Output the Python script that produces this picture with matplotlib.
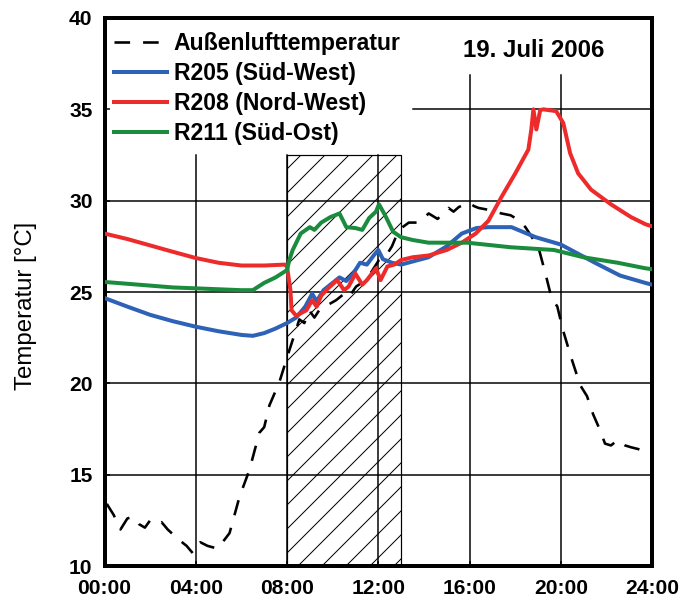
import matplotlib
matplotlib.use("Agg")
import matplotlib.pyplot as plt
from matplotlib.patches import Rectangle

plt.rcParams['font.family'] = ['Liberation Sans', 'DejaVu Sans']
plt.rcParams['hatch.linewidth'] = 1.0

# Außenlufttemperatur (hours, °C)
t_aussen = [0.1, 0.4, 0.7, 1.0, 1.25, 1.5, 1.77, 2.0, 2.3, 2.5, 2.77, 3.2, 3.6, 3.87, 4.2, 4.52,
            4.96, 5.48, 5.92, 6.35, 6.79, 7.0, 7.23, 7.66, 8.1, 8.54, 8.76, 8.97, 9.2, 9.41, 9.54,
            9.8, 10.15, 10.5, 10.7, 11.03, 11.4, 11.7, 12.03, 12.3, 12.6, 12.9, 13.34, 13.78,
            14.21, 14.6, 15.08, 15.3, 15.53, 15.96, 16.2, 16.4, 16.83, 17.4, 17.8, 18.14, 18.45,
            19.02, 19.33, 19.59, 19.85, 20.1, 20.46, 20.85, 21.15, 21.42, 21.7, 21.94, 22.2,
            22.5, 22.82, 23.08, 23.4, 23.82, 24.0]
v_aussen = [13.4, 12.8, 12.0, 12.6, 12.7, 12.3, 12.1, 12.5, 12.3, 12.4, 12.0, 11.5, 11.1, 10.7, 11.3, 11.1,
            10.95, 11.8, 13.8, 15.25, 17.3, 17.6, 18.8, 20.05, 21.8, 23.5, 23.3, 24.0, 23.6, 24.0, 24.2,
            24.3, 24.55, 24.9, 24.7, 25.3, 25.6, 26.1, 26.75, 26.9, 27.5, 28.4, 28.8, 28.8,
            29.3, 29.0, 29.6, 29.4, 29.65, 29.9, 29.7, 29.6, 29.5, 29.3, 29.2, 28.95, 28.55,
            27.45, 26.0, 24.7, 24.2, 22.9, 21.4, 19.9, 19.3, 18.3, 17.5, 16.7, 16.6,
            16.9, 16.6, 16.5, 16.4, 16.2, 16.3]

# R205 (Süd-West)
t_r205 = [0, 1, 2, 3, 4, 5, 6, 6.5, 7, 7.5, 8.0, 8.4, 8.8, 9.1, 9.3, 9.6, 9.9, 10.3, 10.6,
          10.9, 11.2, 11.5, 11.8, 12.0, 12.2, 12.6, 13.0, 14.2, 15.0, 15.66, 16.3, 16.83,
          17.84, 18.9, 20.0, 21.5, 22.6, 23.7, 24.0]
v_r205 = [24.67, 24.2, 23.75, 23.4, 23.1, 22.85, 22.65, 22.6, 22.75, 23.0, 23.3, 23.6, 24.2, 24.9, 24.5, 25.1, 25.4, 25.8, 25.6,
          26.0, 26.6, 26.5, 27.0, 27.3, 26.8, 26.6, 26.5, 26.9, 27.5, 28.2, 28.5, 28.55,
          28.55, 28.0, 27.6, 26.6, 25.9, 25.5, 25.4]

# R208 (Nord-West)
t_r208 = [0, 1, 2, 3, 4, 5, 6, 7, 7.9, 8.0, 8.15, 8.2, 8.4, 8.85, 9.1, 9.3, 9.5, 9.8, 10.2,
          10.5, 10.7, 11.0, 11.3, 11.5, 11.9, 12.1, 12.4, 12.7, 13.0, 13.5, 14.21, 15.0,
          15.66, 16.27, 16.83, 17.4, 18.01, 18.58, 18.71, 18.8, 18.93, 19.1, 19.24, 19.8,
          20.11, 20.41, 20.76, 21.33, 22.2, 23.08, 23.73, 24.0]
v_r208 = [28.2, 27.9, 27.55, 27.2, 26.86, 26.6, 26.45, 26.45, 26.5, 26.4, 25.1, 24.0, 23.7, 24.0, 24.55, 24.2, 24.8, 25.2, 25.65,
          25.1, 25.3, 26.0, 25.4, 25.65, 26.3, 25.65, 26.4, 26.5, 26.75, 26.9, 27.0, 27.3,
          27.7, 28.2, 28.9, 30.2, 31.5, 32.8, 33.9, 35.0, 33.9, 34.96, 35.0, 34.9,
          34.25, 32.6, 31.5, 30.6, 29.8, 29.1, 28.7, 28.6]

# R211 (Süd-Ost)
t_r211 = [0, 1, 2, 3, 4, 5, 6, 6.5, 7.0, 7.5, 8.0, 8.1, 8.25, 8.6, 9.0, 9.2, 9.5, 9.9, 10.3,
          10.6, 11.0, 11.3, 11.6, 11.9, 12.03, 12.3, 12.65, 13.0, 13.5, 14.2, 15.9, 17.8,
          19.7, 21.0, 22.5, 23.7, 24.0]
v_r211 = [25.55, 25.45, 25.35, 25.25, 25.2, 25.15, 25.1, 25.1, 25.5, 25.8, 26.2, 26.75, 27.3, 28.2, 28.55, 28.4, 28.8, 29.1, 29.3,
          28.55, 28.5, 28.4, 29.05, 29.4, 29.8, 29.2, 28.3, 28.0, 27.85, 27.7, 27.7, 27.45,
          27.3, 26.9, 26.6, 26.3, 26.25]

x_ticks = [0, 4, 8, 12, 16, 20, 24]
x_labels = ["00:00", "04:00", "08:00", "12:00", "16:00", "20:00", "24:00"]
y_ticks = [10, 15, 20, 25, 30, 35, 40]

fig = plt.figure(figsize=(694 / 72, 602 / 72), dpi=72)
ax = fig.add_axes([0.1506, 0.0598, 0.7889, 0.9103])

# grid, partly hidden behind legend and date
for yv in [15, 20, 25, 30]:
    ax.axhline(yv, color="black", lw=1.5, zorder=1)
ax.axhline(35, xmin=0.563, color="black", lw=1.5, zorder=1)
for xv in [4, 8, 12]:
    ax.axvline(xv, ymax=0.75, color="black", lw=1.5, zorder=1)
for xv in [16, 20]:
    ax.axvline(xv, ymax=0.896, color="black", lw=1.5, zorder=1)

# hatched period
ax.add_patch(Rectangle((8, 10), 5, 22.5, fill=False, hatch="/", edgecolor="black",
                       lw=1.2, zorder=1.5))

ax.plot(t_aussen, v_aussen, color="black", lw=2.6, ls=(0, (6, 5)), zorder=3,
        label="Außenlufttemperatur")
ax.plot(t_r205, v_r205, color="#2d62b6", lw=4, zorder=3, label="R205 (Süd-West)")
ax.plot(t_r208, v_r208, color="#ee2b2b", lw=4, zorder=3, label="R208 (Nord-West)")
ax.plot(t_r211, v_r211, color="#1b8c3d", lw=4, zorder=3, label="R211 (Süd-Ost)")

ax.set_xlim(0, 24)
ax.set_ylim(10, 40)
ax.set_xticks(x_ticks)
ax.set_xticklabels(x_labels)
ax.set_yticks(y_ticks)
ax.tick_params(axis="x", direction="in", length=5, width=1.5, pad=13,
               labelsize=21, top=False)
ax.tick_params(axis="y", direction="in", length=5, width=1.5, pad=12,
               labelsize=21, right=False)
for lab in ax.get_xticklabels() + ax.get_yticklabels():
    lab.set_fontweight("bold")
for sp in ax.spines.values():
    sp.set_linewidth(4)

leg = ax.legend(loc="upper left", bbox_to_anchor=(0.0, 0.991), frameon=False,
                prop={"size": 23, "weight": "bold"}, handlelength=2.3,
                handletextpad=0.3, labelspacing=0.3, borderaxespad=0.0,
                borderpad=0.4)

ax.text(0.783, 0.94, "19. Juli 2006", transform=ax.transAxes, ha="center",
        va="center", fontsize=24, fontweight="bold")

fig.text(26 / 694, 1 - 306 / 602, "Temperatur [°C]", rotation=90, ha="center",
         va="center", fontsize=24)

fig.savefig("out.png", dpi=72)
